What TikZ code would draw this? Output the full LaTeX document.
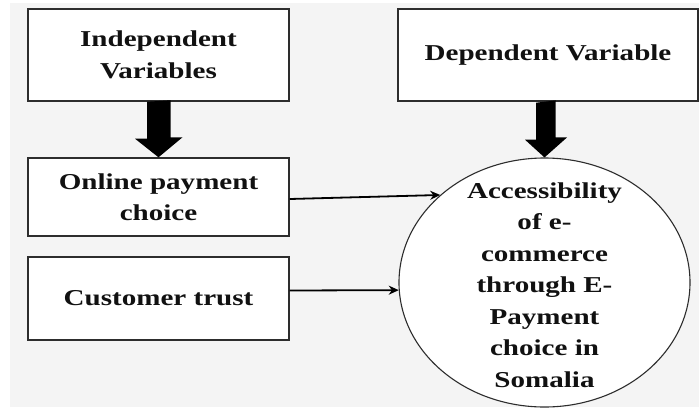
\documentclass[tikz,border=0pt]{standalone}
\usepackage{fontspec}
\setmainfont{Liberation Serif}[FakeStretch=1.28]
\usetikzlibrary{shapes.geometric,arrows.meta}
\definecolor{bggrey}{RGB}{244,244,244}
\definecolor{edgegrey}{RGB}{45,45,45}
\definecolor{inkc}{RGB}{17,17,17}
\begin{document}
\begin{tikzpicture}[x=1pt,y=-1pt,
  varbox/.style={draw=edgegrey, line width=1.4pt, fill=white, inner sep=0pt,
    align=center, text=inkc, font=\fontsize{22.7}{31.5}\selectfont\bfseries},
  bigarrow/.style={fill=black},
  thinarrow/.style={draw=black, line width=1.8pt, -{Stealth[length=10pt,width=9pt]}}]
\useasboundingbox (0,0) rectangle (699,408);
\fill[white] (0,0) rectangle (699,408);
\fill[bggrey] (10,3) rectangle (699,407);
% boxes
\node[varbox, minimum width=261pt, minimum height=92pt] (ind) at (158.5,55) {Independent\\Variables};
\node[varbox, minimum width=300pt, minimum height=92pt] (dep) at (548,55) {Dependent Variable};
\node[varbox, minimum width=261pt, minimum height=78pt] (onl) at (158.5,197) {Online payment\\choice};
\node[varbox, minimum width=261pt, minimum height=83pt] (cus) at (158.5,298.5) {Customer trust};
% ellipse
\node[ellipse, draw=edgegrey, line width=1.1pt, fill=white, minimum width=291pt, minimum height=249pt, inner sep=0pt] (acc) at (544.5,282.5) {};
\node[align=center, text=inkc, inner sep=0pt, font=\fontsize{22.7}{31.5}\selectfont\bfseries] (acct) at (acc.center) [yshift=-2.5pt]
  {Accessibility\\of e-\\commerce\\through E-\\Payment\\choice in\\Somalia};
% big arrows
\fill[bigarrow] ([xshift=-11.5pt]ind.south) -- ++(0,37) -- ++(-12,0) -- (onl.north) -- ++(24,-20) -- ++(-12,0) -- ++(0,-37) -- cycle;
\fill[bigarrow] ([xshift=-12pt,yshift=-1pt]dep.south) -- ++(0,37) -- ++(-11,0) -- (acc.north) -- ++(22.5,-20) -- ++(-11.5,0) -- ++(0,-37) -- cycle;
% thin arrows
\draw[thinarrow] ([yshift=-2pt]onl.east) -- (acc.140);
\draw[thinarrow] ([yshift=8pt]cus.east) -- (acc.183);
\end{tikzpicture}
\end{document}
